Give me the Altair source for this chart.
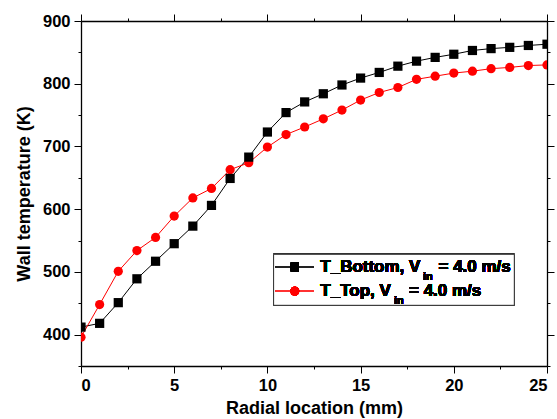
import altair as alt
import pandas as pd

radial_mm = list(range(26))
t_bottom = [412, 418, 451, 489, 517, 545, 573, 606, 649, 683, 723, 754, 771, 784, 798,
            809, 818, 828, 836, 842, 847, 853, 856, 858, 861, 863]
t_top = [396, 448, 501, 534, 555, 589, 618, 633, 663, 674, 699, 719, 731, 744, 758,
         774, 786, 794, 807, 812, 817, 820, 824, 826, 829, 830]
x_ticks = [i * 2.5 for i in range(11)]
y_ticks = [350 + 50 * i for i in range(12)]

df_b = pd.DataFrame({"x": radial_mm, "y": t_bottom})
df_t = pd.DataFrame({"x": radial_mm, "y": t_top})

FONT = "Liberation Sans"
xs = alt.Scale(domain=[0, 25], nice=False, zero=False)
ys = alt.Scale(domain=[350, 900], nice=False, zero=False)

x_tick_size = {"condition": {"test": "datum.value % 5 === 0", "value": 7}, "value": 3}
y_tick_size = {"condition": {"test": "datum.value % 100 === 0", "value": 7}, "value": 3}

common_axis = dict(domainColor="black", domainWidth=1.3, tickColor="black", tickWidth=1,
                   labelFont=FONT, labelFontWeight="bold", labelFontSize=16.5, labelColor="black",
                   titleFont=FONT, titleFontWeight="bold", titleFontSize=18, titleColor="black",
                   grid=False, labelOverlap=False)

x_axis = alt.Axis(orient="bottom", values=x_ticks, tickSize=x_tick_size,
                  labelExpr="datum.value % 5 === 0 ? datum.label : ''",
                  labelPadding=4, title="Radial location (mm)", titlePadding=6, **common_axis)
y_axis = alt.Axis(orient="left", values=y_ticks, tickSize=y_tick_size,
                  labelExpr="datum.value % 100 === 0 ? datum.label : ''",
                  labelPadding=4, title="Wall temperature (K)", titlePadding=9, **common_axis)
x_axis_top = alt.Axis(orient="top", values=x_ticks, tickSize=x_tick_size, labels=False,
                      title=None, **common_axis)
y_axis_right = alt.Axis(orient="right", values=y_ticks, tickSize=y_tick_size, labels=False,
                        title=None, **common_axis)

line_b = alt.Chart(df_b).mark_line(color="black", strokeWidth=1, clip=True).encode(
    x=alt.X("x:Q", scale=xs, axis=x_axis), y=alt.Y("y:Q", scale=ys, axis=y_axis))
pts_b = alt.Chart(df_b).mark_point(shape="square", filled=True, color="black", size=85,
                                   opacity=1, clip=True).encode(
    x=alt.X("x:Q", scale=xs, axis=None), y=alt.Y("y:Q", scale=ys, axis=None))
line_t = alt.Chart(df_t).mark_line(color="#ff0000", strokeWidth=1, clip=True).encode(
    x=alt.X("x:Q", scale=xs, axis=None), y=alt.Y("y:Q", scale=ys, axis=None))
pts_t = alt.Chart(df_t).mark_point(shape="circle", filled=True, color="#ff0000", size=85,
                                   opacity=1, clip=True).encode(
    x=alt.X("x:Q", scale=xs, axis=None), y=alt.Y("y:Q", scale=ys, axis=None))
frame = alt.Chart(df_b).mark_point(opacity=0).encode(
    x=alt.X("x:Q", scale=xs, axis=x_axis_top), y=alt.Y("y:Q", scale=ys, axis=y_axis_right))

# legend (manual, for the subscript)
leg_box = alt.Chart(df_b).mark_rect(fill="white", stroke="#333333", strokeWidth=1).encode(
    x=alt.value(192.6), x2=alt.value(433.3), y=alt.value(233.3), y2=alt.value(284.3))
r1, r2 = 246.0, 270.1
leg_l1 = alt.Chart(df_b).mark_rule(color="#222222", strokeWidth=1).encode(
    x=alt.value(194.3), x2=alt.value(232.3), y=alt.value(r1))
leg_l2 = alt.Chart(df_b).mark_rule(color="#ff3333", strokeWidth=1).encode(
    x=alt.value(194.3), x2=alt.value(232.3), y=alt.value(r2))
leg_p1 = alt.Chart(df_b).mark_point(shape="square", filled=True, color="black", size=70,
                                    opacity=1).encode(x=alt.value(213.8), y=alt.value(r1))
leg_p2 = alt.Chart(df_b).mark_point(shape="circle", filled=True, color="#ff0000", size=80,
                                    opacity=1).encode(x=alt.value(213.8), y=alt.value(r2))

def txt(s, x, y, size=17):
    return alt.Chart(df_b).mark_text(text=s, font=FONT, fontWeight="bold", fontSize=size,
                                     align="left", baseline="middle", color="black").encode(
        x=alt.value(x), y=alt.value(y))

legend = [leg_box, leg_l1, leg_l2, leg_p1, leg_p2,
          txt("T_Bottom, V", 239.3, r1), txt("in", 342.0, r1 + 10, 11), txt("= 4.0 m/s", 357.5, r1),
          txt("T_Top, V", 239.3, r2), txt("in", 313.0, r2 + 10, 11), txt("= 4.0 m/s", 328.0, r2)]

chart = alt.layer(line_b, frame, line_t, pts_t, pts_b, *legend).resolve_axis(
    x="independent", y="independent"
).properties(
    width=466, height=345,
    autosize=alt.AutoSizeParams(type="none"),
    padding={"left": 81, "top": 21, "right": 10, "bottom": 53},
    background="white",
).configure_view(stroke=None)

chart.save("out.html", embed_options={"renderer": "svg", "actions": False})
